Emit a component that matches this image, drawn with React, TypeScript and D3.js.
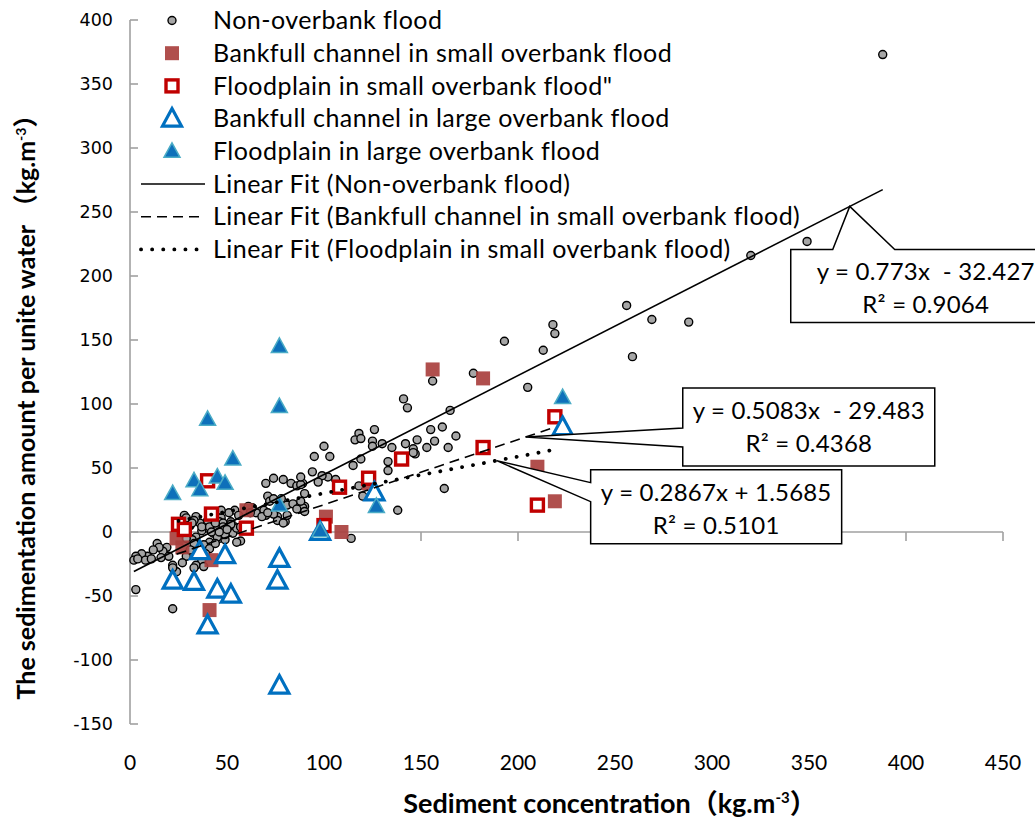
import React from "react";
import * as d3 from "d3";

type Pt = [number, number];

// Non-overbank flood (sediment concentration, sedimentation amount)
const nonOverbank: Pt[] = [
  [388, 373], [349, 227], [320, 216], [256, 177], [269, 166], [288, 164], [259, 137], [218, 162],
  [219, 155], [213, 142], [205, 113], [193, 149], [177, 124], [165, 95], [161, 82], [168, 75],
  [164, 66], [162, 34], [156, 118], [141, 104], [143, 97],
  [100, 67], [103, 59], [118, 77], [116, 72], [119, 73], [126, 80], [125, 71], [125, 67], [130, 69],
  [135, 66], [142, 69], [148, 72], [146, 65], [147, 61], [155, 80], [157, 71], [153, 66], [119, 57],
  [115, 52], [133, 55], [133, 48], [138, 17], [106, 41], [102, 43], [99, 44], [118, 36], [120, 28],
  [114, -5], [95, 59], [94, 47], [89, 38], [97, 39], [90, 20], [88, 18], [146, 62],
  [70, 38], [74, 42], [79, 41], [83, 38], [86, 36], [71, 28], [72, 24], [74, 26], [78, 26], [81, 21],
  [84, 22], [89, 19], [90, 16], [86, 18], [70, 13], [76, 12], [76, 9], [80, 8], [69, 17], [65, 15],
  [63, 19], [61, 20], [54, 17], [51, 15], [47, 11], [46, 8], [48, 7], [52, 8], [45, 2], [47, 0],
  [51, 2], [54, 4], [53, -1], [46, -5], [49, -6], [57, -7], [68, 12], [88, 37], [90, 30], [88, 24],
  [81, 13], [79, 7], [74, 14], [71, 15], [62, 15], [56, 13], [47, 17], [43, 11], [36, 7], [34, 12],
  [33, 9], [28, 13], [27, 9], [31, 5], [40, 3], [37, 1], [34, -4], [32, -6], [43, -1], [45, -4],
  [41, -8], [38, -10], [41, -13], [39, -17], [37, -22], [34, -26], [38, -27], [22, -26], [23, -30],
  [19, -12], [17, -15], [14, -9], [15, -12], [12, -14], [20, -19], [16, -20], [9, -19], [6, -17],
  [3, -19], [2, -22], [4, -21], [8, -22], [11, -21], [55, 3], [52, 6], [57, 4], [48, 4], [49, -2],
  [55, -8], [50, 2], [88, 43], [3, -45], [22, -60], [34, -41], [33, -28], [24, -31], [22, -28],
  [27, 8], [29, 11], [30, 4], [32, 7], [29, -5], [33, -9], [29, -19], [31, -14], [37, 4], [40, 9],
  [41, 4], [42, 0], [44, 7], [44, -9], [46, 0], [27, -24],
];

// Bankfull channel in small overbank flood
const bankfullSmall: Pt[] = [
  [156, 127], [182, 120], [210, 51], [219, 24], [60, 17], [101, 12], [109, 0], [24, -5],
  [27, -12], [42, -22], [41, -61], [123, 38],
];

// Floodplain in small overbank flood
const floodplainSmall: Pt[] = [
  [25, 6], [28, 2], [40, 40], [42, 14], [60, 3], [100, 5], [108, 35], [123, 42], [140, 57],
  [182, 66], [219, 90], [210, 21],
];

// Bankfull channel in large overbank flood
const bankfullLarge: Pt[] = [
  [223, 82], [126, 31], [98, 0], [36, -15], [49, -18], [22, -38], [33, -39], [45, -45],
  [52, -49], [40, -73], [77, -21], [76, -38], [77, -120],
];

// Floodplain in large overbank flood
const floodplainLarge: Pt[] = [
  [77, 145], [77, 98], [40, 88], [53, 57], [33, 40], [45, 43], [36, 33], [49, 38], [22, 30],
  [77, 21], [127, 20], [223, 105], [98, 1],
];

const xTicks = [0, 50, 100, 150, 200, 250, 300, 350, 400, 450];
const yTicks = [-150, -100, -50, 0, 50, 100, 150, 200, 250, 300, 350, 400];

const fitNames = ["Non-overbank flood", "Bankfull channel in small overbank flood", "Floodplain in small overbank flood"];
const fitSlopes = [0.773, 0.5083, 0.2867];
const fitIntercepts = [-32.427, -29.483, 1.5685];
const fitEquations = ["y = 0.773x  - 32.427", "y = 0.5083x  - 29.483", "y = 0.2867x + 1.5685"];
const fitR2 = ["R² = 0.9064", "R² = 0.4368", "R² = 0.5101"];
// x where each callout points at its trend line
const calloutAt = [371, 204, 189];

const W = 1035;
const H = 822;
const FONT = "Lato, 'Open Sans', sans-serif";
const CJK = "Lato, 'Noto Sans CJK SC', sans-serif";

const x = d3.scaleLinear().domain([0, 450]).range([130, 1003]);
const y = d3.scaleLinear().domain([-150, 400]).range([724, 20]);

function Circle({ cx, cy }: { cx: number; cy: number }) {
  return <circle cx={cx} cy={cy} r={4} fill="#a6a6a6" stroke="#000" strokeWidth={1.4} />;
}
function FilledSquare({ cx, cy }: { cx: number; cy: number }) {
  return <rect x={cx - 7} y={cy - 7} width={14} height={14} fill="#a9403e" fillOpacity={0.92} />;
}
function OpenSquare({ cx, cy }: { cx: number; cy: number }) {
  return <rect x={cx - 6} y={cy - 6} width={12} height={12} fill="#fff" stroke="#c00000" strokeWidth={3.4} />;
}
function OpenTriangle({ cx, cy }: { cx: number; cy: number }) {
  return (
    <path
      d={`M${cx},${cy - 10}L${cx + 9.5},${cy + 7.5}L${cx - 9.5},${cy + 7.5}Z`}
      fill="#fff"
      stroke="#0070c0"
      strokeWidth={3.2}
    />
  );
}
function FilledTriangle({ cx, cy }: { cx: number; cy: number }) {
  return (
    <path
      d={`M${cx},${cy - 8.5}L${cx + 8},${cy + 6}L${cx - 8},${cy + 6}Z`}
      fill="#0e70ba"
      stroke="#4bacc6"
      strokeWidth={1.5}
    />
  );
}

const dashes = ["none", "10,6", "0.1,11"];
const dashWidths = [1.6, 1.6, 3.8];

function FitLine({ i, data }: { i: number; data: Pt[] }) {
  const [x0, x1] = d3.extent(data, (d) => d[0]) as [number, number];
  const f = (v: number) => fitSlopes[i] * v + fitIntercepts[i];
  const line = d3.line<number>().x((v) => x(v)).y((v) => y(f(v)));
  return (
    <path
      d={line([x0, x1]) || ""}
      fill="none"
      stroke="#000"
      strokeWidth={dashWidths[i]}
      strokeDasharray={dashes[i] === "none" ? undefined : dashes[i]}
      strokeLinecap={i === 2 ? "round" : "butt"}
    />
  );
}

function Callouts() {
  const tips = calloutAt.map((v, i) => [x(v), y(fitSlopes[i] * v + fitIntercepts[i])]);
  // box 1: pointer from top edge
  const [t1x, t1y] = tips[0];
  const b1 = { l: t1x - 59, t: t1y + 43, r: t1x + 211, b: t1y + 116 };
  const p1 = `M${b1.l},${b1.t}H${t1x - 17}L${t1x},${t1y}L${t1x + 45},${b1.t}H${b1.r}V${b1.b}H${b1.l}Z`;
  // box 2: pointer from left edge
  const [t2x, t2y] = tips[1];
  const b2 = { l: t2x + 157, t: t2y - 49, r: t2x + 409, b: t2y + 29 };
  const p2 = `M${b2.l},${b2.t}H${b2.r}V${b2.b}H${b2.l}V${t2y + 10}L${t2x},${t2y}L${b2.l},${t2y - 9}Z`;
  // box 3: pointer from left edge
  const [t3x, t3y] = tips[2];
  const b3 = { l: t3x + 94, t: t3y + 9, r: t3x + 345, b: t3y + 83 };
  const p3 = `M${b3.l},${b3.t}H${b3.r}V${b3.b}H${b3.l}V${t3y + 41}L${t3x},${t3y}L${b3.l},${t3y + 22}Z`;
  const boxes = [b1, b2, b3];
  const paths = [p1, p2, p3];
  return (
    <g>
      {paths.map((p, i) => (
        <path key={i} d={p} fill="#fff" stroke="#000" strokeWidth={1.5} />
      ))}
      {boxes.map((b, i) => (
        <g key={"t" + i} fontFamily={FONT} fontSize={24} letterSpacing={0.2} textAnchor="middle" fill="#000">
          <text x={(b.l + b.r) / 2} y={b.t + 31} style={{ whiteSpace: "pre" }}>{fitEquations[i]}</text>
          <text x={(b.l + b.r) / 2} y={b.t + 64}>{fitR2[i]}</text>
        </g>
      ))}
    </g>
  );
}

const legendLabels = [
  "Non-overbank flood",
  "Bankfull channel in small overbank flood",
  "Floodplain in small overbank flood\"",
  "Bankfull channel in large overbank flood",
  "Floodplain in large overbank flood",
  "Linear Fit (" + fitNames[0] + ")",
  "Linear Fit (" + fitNames[1] + ")",
  "Linear Fit (" + fitNames[2] + ")",
];

function Legend() {
  const rowY = (i: number) => 20.5 + i * 32.7;
  const mx = 172;
  const markers = [Circle, FilledSquare, OpenSquare, OpenTriangle, FilledTriangle];
  return (
    <g>
      {legendLabels.map((label, i) => {
        const cy = rowY(i);
        let sym: React.ReactNode = null;
        if (i < 5) {
          const M = markers[i];
          sym = <M cx={mx} cy={cy} />;
        } else {
          const k = i - 5;
          sym = (
            <line
              x1={141}
              x2={205}
              y1={cy}
              y2={cy}
              stroke="#000"
              strokeWidth={dashWidths[k]}
              strokeDasharray={dashes[k] === "none" ? undefined : dashes[k]}
              strokeLinecap={k === 2 ? "round" : "butt"}
            />
          );
        }
        return (
          <g key={i}>
            {sym}
            <text x={213} y={cy} dy="0.35em" fontFamily={FONT} fontSize={25} letterSpacing={0.45} fill="#000">
              {label}
            </text>
          </g>
        );
      })}
    </g>
  );
}

export default function App() {
  return (
    <svg
      width={W}
      height={H}
      viewBox={`0 0 ${W} ${H}`}
      style={{ position: "absolute", left: 0, top: 0, background: "#fff" }}
    >
      <rect width={W} height={H} fill="#fff" />

      {/* axes */}
      <g stroke="#a0a0a0" strokeWidth={1.6}>
        <line x1={x(0)} x2={x(0)} y1={y(400)} y2={y(-150)} />
        {yTicks.map((t) => (
          <line key={t} x1={x(0)} x2={x(0) + 8} y1={y(t)} y2={y(t)} />
        ))}
        <line x1={x(0)} x2={x(450)} y1={y(0)} y2={y(0)} />
        {xTicks.map((t) => (
          <line key={t} x1={x(t)} x2={x(t)} y1={y(0)} y2={y(0) + 9} />
        ))}
      </g>
      <g fontFamily="'DejaVu Sans', Verdana, sans-serif" fontSize={17.5} fill="#000" textAnchor="end">
        {yTicks.map((t) => (
          <text key={t} x={113} y={y(t)} dy="0.36em">
            {t}
          </text>
        ))}
      </g>
      <g fontFamily={FONT} fontSize={21} fill="#000" textAnchor="middle">
        {xTicks.map((t) => (
          <text key={t} x={x(t)} y={770}>
            {t}
          </text>
        ))}
      </g>

      {/* axis titles */}
      <text x={610} y={813} textAnchor="middle" fontFamily={CJK} fontWeight="bold" fontSize={27}>
        Sediment concentration（kg.m<tspan fontSize={15} dy={-10}>-3</tspan><tspan dy={10}>）</tspan>
      </text>
      <text
        transform={`translate(35,401) rotate(-90)`}
        textAnchor="middle"
        fontFamily={CJK}
        fontWeight="bold"
        fontSize={25}
      >
        The sedimentation amount per unite water （kg.m<tspan fontSize={14} dy={-9}>-3</tspan><tspan dy={9}>）</tspan>
      </text>

      {/* series */}
      <g>
        {nonOverbank.map((d, i) => (
          <Circle key={i} cx={x(d[0])} cy={y(d[1])} />
        ))}
      </g>
      <g>
        {bankfullSmall.map((d, i) => (
          <FilledSquare key={i} cx={x(d[0])} cy={y(d[1])} />
        ))}
      </g>
      <g>
        {floodplainSmall.map((d, i) => (
          <OpenSquare key={i} cx={x(d[0])} cy={y(d[1])} />
        ))}
      </g>
      <g>
        {bankfullLarge.map((d, i) => (
          <OpenTriangle key={i} cx={x(d[0])} cy={y(d[1])} />
        ))}
      </g>
      <g>
        {floodplainLarge.map((d, i) => (
          <FilledTriangle key={i} cx={x(d[0])} cy={y(d[1])} />
        ))}
      </g>

      {/* trend lines */}
      <FitLine i={0} data={nonOverbank} />
      <FitLine i={1} data={bankfullSmall} />
      <FitLine i={2} data={floodplainSmall} />

      <Callouts />
      <Legend />
    </svg>
  );
}
